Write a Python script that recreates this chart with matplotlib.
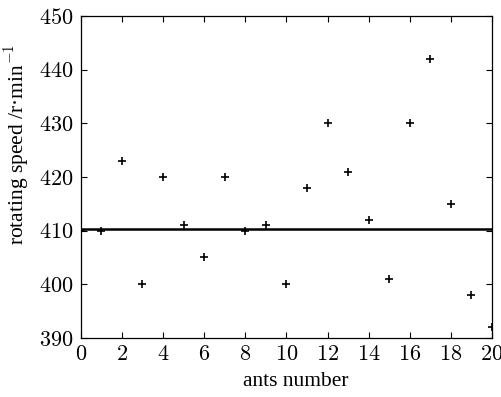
import numpy as np
import matplotlib.pyplot as plt

# Rotating speed of each ant
ants = list(range(21))
speed = [410, 410, 423, 400, 420, 411, 405, 420, 410, 411, 400,
         418, 430, 421, 412, 401, 430, 442, 415, 398, 392]
mean_level = 410.3
line_x = [0, 20]

plt.rcParams['font.family'] = ['cmr10', 'DejaVu Serif']
plt.rcParams['mathtext.fontset'] = 'cm'
plt.rcParams['axes.formatter.use_mathtext'] = True

fig = plt.figure(figsize=(5.02, 3.97), dpi=100)
ax = fig.add_axes([0.161, 0.1486, 0.819, 0.8114])

ax.plot(line_x, [mean_level, mean_level], 'k-', linewidth=1.8)
ax.plot(ants, speed, 'k+', markersize=5.5, markeredgewidth=1.2)

ax.set_xlim(0, 20)
ax.set_ylim(390, 450)
ax.set_xticks(range(0, 21, 2))
ax.set_yticks(range(390, 451, 10))
ax.tick_params(direction='in', top=True, right=True, length=4, width=0.8,
               labelsize=16, pad=5)
for s in ax.spines.values():
    s.set_linewidth(0.9)

lab_font = dict(family=['Liberation Serif', 'DejaVu Serif'], size=15.5)
ax.set_xlabel('ants number', fontdict=lab_font)
ax.set_ylabel('rotating speed /r\u00b7min$^{-1}$', fontdict=lab_font)
ax.xaxis.set_label_coords(0.522, -0.105)
ax.yaxis.set_label_coords(-0.12, 0.60)

fig.savefig('out.png', dpi=100)
